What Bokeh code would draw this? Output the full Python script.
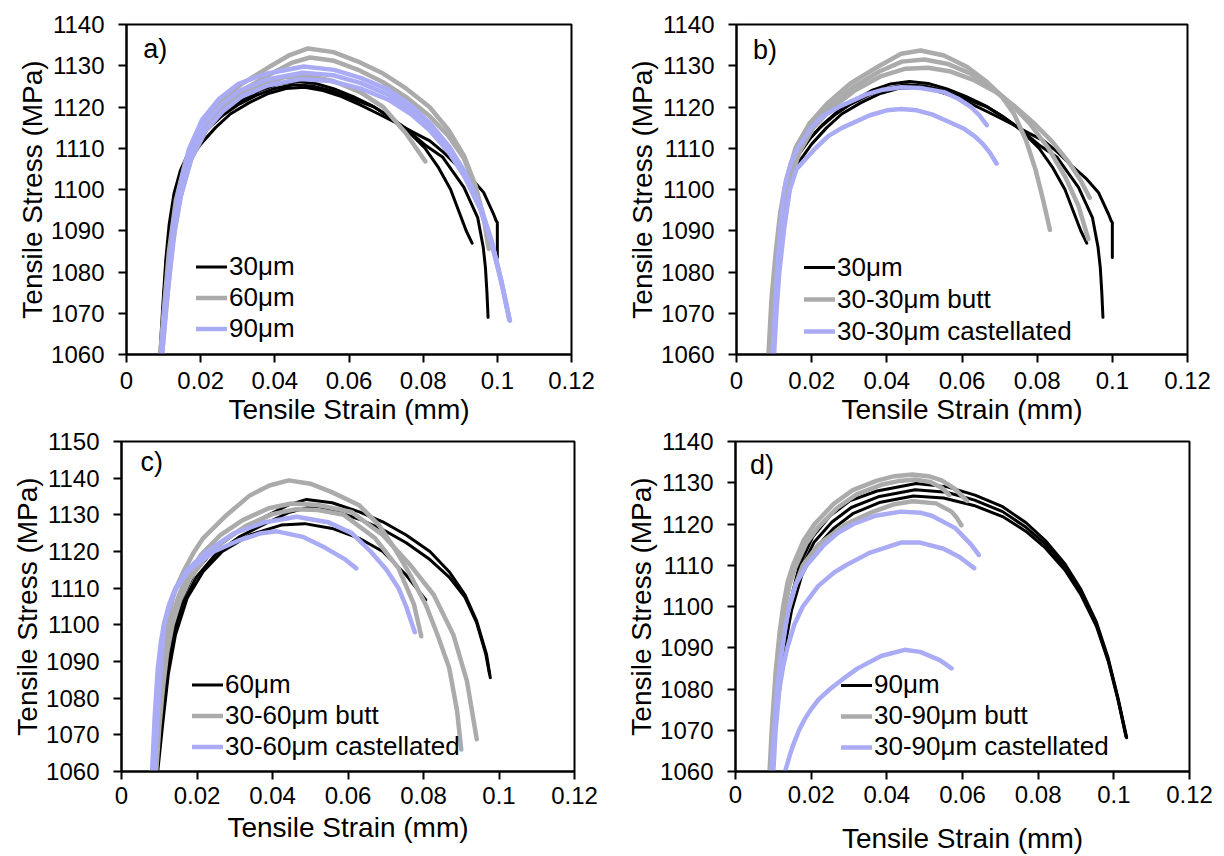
from bokeh.plotting import figure
from bokeh.layouts import column, row
from bokeh.models import Legend, LegendItem, Label, FixedTicker, Range1d
from bokeh.embed import file_html
from bokeh.resources import INLINE

# ---------------- axis ticks ----------------
x_ticks = [0, 0.02, 0.04, 0.06, 0.08, 0.1, 0.12]
x_tick_labels = ["0", "0.02", "0.04", "0.06", "0.08", "0.1", "0.12"]
y_ticks_1140 = [1060, 1070, 1080, 1090, 1100, 1110, 1120, 1130, 1140]
y_ticks_1150 = [1060, 1070, 1080, 1090, 1100, 1110, 1120, 1130, 1140, 1150]

# ---------------- 30 um (three specimens) ----------------
um30_a_strain = [0.0090, 0.0098, 0.0106, 0.0115, 0.0128, 0.0145, 0.0165, 0.0190, 0.0220, 0.0260, 0.0300, 0.0350, 0.0400, 0.0450, 0.0500, 0.0550, 0.0600, 0.0668, 0.0710, 0.0750, 0.0805, 0.0840, 0.0874, 0.0916, 0.0932]
um30_a_stress = [1060, 1072, 1083, 1091.5, 1099, 1104.5, 1108.5, 1111.8, 1114.8, 1118, 1120.5, 1122.8, 1124.5, 1125.4, 1125.1, 1124, 1122.3, 1120, 1117.6, 1115, 1110, 1105.5, 1100, 1090, 1087]
um30_b_strain = [0.0092, 0.0100, 0.0108, 0.0118, 0.0130, 0.0148, 0.0168, 0.0195, 0.0230, 0.0270, 0.0310, 0.0360, 0.0410, 0.0460, 0.0510, 0.0560, 0.0610, 0.0660, 0.0710, 0.0760, 0.0805, 0.0853, 0.0910, 0.0947, 0.0962, 0.0968, 0.0972, 0.0975]
um30_b_stress = [1060, 1073, 1083.5, 1092, 1099, 1104.8, 1108.8, 1112.3, 1115.8, 1119, 1121.5, 1124, 1125.6, 1126.2, 1125.7, 1124.4, 1122.6, 1120.4, 1117.6, 1114.2, 1110.8, 1107.8, 1100.5, 1093.2, 1086, 1081, 1075, 1069]
um30_c_strain = [0.0094, 0.0102, 0.0110, 0.0120, 0.0133, 0.0150, 0.0170, 0.0200, 0.0240, 0.0280, 0.0330, 0.0380, 0.0430, 0.0480, 0.0530, 0.0580, 0.0630, 0.0680, 0.0730, 0.0775, 0.0818, 0.0855, 0.0889, 0.0932, 0.0963, 0.0990, 0.0997, 0.1000, 0.1000]
um30_c_stress = [1060, 1072, 1082, 1090.5, 1097.5, 1103, 1107.2, 1111, 1115, 1118.3, 1121, 1123.2, 1124.5, 1124.8, 1124, 1122.5, 1120.5, 1118.3, 1116, 1113.8, 1111.8, 1109, 1106, 1102.5, 1099.3, 1094, 1092.4, 1092, 1083.5]

# ---------------- 60 um ----------------
um60_a_strain = [0.0091, 0.0102, 0.0114, 0.0133, 0.0159, 0.0195, 0.0247, 0.0309, 0.0381, 0.0440, 0.0490, 0.0558, 0.0630, 0.0692, 0.0754, 0.0817, 0.0868, 0.0910, 0.0941, 0.0967, 0.0977]
um60_a_stress = [1060, 1072, 1084.7, 1097.3, 1106.8, 1114.5, 1120.8, 1125.5, 1129.5, 1132.6, 1134.2, 1133.3, 1130.8, 1128.1, 1124.5, 1120, 1114.5, 1108.2, 1101, 1091.9, 1085.6]
um60_b_strain = [0.0093, 0.0104, 0.0116, 0.0135, 0.0162, 0.0198, 0.0250, 0.0312, 0.0385, 0.0445, 0.0495, 0.0560, 0.0630, 0.0692, 0.0754, 0.0817, 0.0868, 0.0910, 0.0941, 0.0965, 0.0975]
um60_b_stress = [1060, 1071.5, 1084, 1096.5, 1105.8, 1113, 1119.3, 1124, 1127.8, 1130.7, 1132, 1131.2, 1128.8, 1126, 1122.4, 1117.8, 1113, 1107.5, 1100.5, 1092, 1086.5]
um60_c_strain = [0.0096, 0.0110, 0.0124, 0.0143, 0.0174, 0.0216, 0.0267, 0.0340, 0.0423, 0.0485, 0.0558, 0.0630, 0.0692, 0.0754, 0.0806]
um60_c_stress = [1060, 1073.8, 1086.5, 1097.3, 1107.3, 1114.5, 1120, 1124.5, 1127.2, 1127.6, 1126.3, 1123.6, 1120, 1113.6, 1106.8]

# ---------------- 90 um ----------------
um90_a_strain = [0.0093, 0.0103, 0.0114, 0.0126, 0.0142, 0.0168, 0.0204, 0.0250, 0.0302, 0.0374, 0.0478, 0.0560, 0.0633, 0.0706, 0.0768, 0.0819, 0.0871, 0.0912, 0.0954, 0.0985, 0.1011, 0.1034]
um90_a_stress = [1060, 1071.4, 1080.2, 1091.3, 1100.1, 1109.7, 1116.9, 1122, 1125.6, 1128, 1129.8, 1129, 1127, 1124.2, 1120.3, 1116, 1110.3, 1104.3, 1096.2, 1087.5, 1077.8, 1068.2]
um90_b_strain = [0.0096, 0.0106, 0.0117, 0.0130, 0.0148, 0.0175, 0.0210, 0.0260, 0.0310, 0.0380, 0.0470, 0.0550, 0.0630, 0.0706, 0.0768, 0.0819, 0.0871, 0.0912, 0.0954, 0.0985, 0.1011, 0.1032]
um90_b_stress = [1060, 1071, 1080, 1090, 1099, 1107.5, 1114, 1119, 1122.5, 1125.2, 1126.8, 1126.3, 1124.5, 1121.8, 1118.2, 1114.2, 1108.8, 1103, 1095.2, 1086.8, 1077.4, 1068.5]
um90_c_strain = [0.0094, 0.0104, 0.0115, 0.0128, 0.0145, 0.0171, 0.0207, 0.0255, 0.0306, 0.0377, 0.0475, 0.0558, 0.0632, 0.0706, 0.0768, 0.0819, 0.0871, 0.0912, 0.0954, 0.0985, 0.1011, 0.1033]
um90_c_stress = [1060, 1071.2, 1080.1, 1090.6, 1099.6, 1108.6, 1115.5, 1120.5, 1124, 1126.6, 1128.3, 1127.7, 1125.8, 1123, 1119.2, 1115.1, 1109.5, 1103.6, 1095.6, 1087.1, 1077.6, 1068.3]

# ---------------- 30-30 um butt ----------------
butt3030_a_strain = [0.0085, 0.0093, 0.0104, 0.0116, 0.0132, 0.0158, 0.0194, 0.0241, 0.0303, 0.0375, 0.0438, 0.0490, 0.0552, 0.0614, 0.0666, 0.0707, 0.0738, 0.0770, 0.0796, 0.0816, 0.0834]
butt3030_a_stress = [1060, 1073.3, 1084.5, 1094.2, 1102.3, 1110.3, 1116, 1120.8, 1125.7, 1129.7, 1132.9, 1133.7, 1132.5, 1129.7, 1126.1, 1122.4, 1118.4, 1112, 1104.7, 1097.4, 1090.2]
butt3030_b_strain = [0.0088, 0.0097, 0.0108, 0.0120, 0.0137, 0.0163, 0.0200, 0.0250, 0.0310, 0.0380, 0.0440, 0.0500, 0.0560, 0.0620, 0.0680, 0.0730, 0.0780, 0.0830, 0.0875, 0.0910, 0.0936]
butt3030_b_stress = [1060, 1073, 1084, 1093.5, 1101.5, 1109.5, 1115.5, 1120.3, 1124.8, 1128.6, 1131, 1131.5, 1130.5, 1128.2, 1124.8, 1120.8, 1116, 1110, 1103, 1096, 1088]
butt3030_c_strain = [0.0090, 0.0099, 0.0110, 0.0123, 0.0140, 0.0167, 0.0205, 0.0255, 0.0315, 0.0385, 0.0450, 0.0510, 0.0570, 0.0630, 0.0690, 0.0740, 0.0790, 0.0840, 0.0885, 0.0915, 0.0940]
butt3030_c_stress = [1060, 1072.5, 1083.5, 1093, 1101, 1109, 1115, 1119.8, 1124, 1127.5, 1129.3, 1129.5, 1128.6, 1126.6, 1123.6, 1120.2, 1116.2, 1111.6, 1106.5, 1102.3, 1098]

# ---------------- 30-30 um castellated ----------------
cast3030_a_strain = [0.0096, 0.0103, 0.0110, 0.0118, 0.0127, 0.0143, 0.0163, 0.0199, 0.0230, 0.0272, 0.0344, 0.0390, 0.0438, 0.0490, 0.0552, 0.0590, 0.0624, 0.0646, 0.0666]
cast3030_a_stress = [1060, 1072, 1083, 1092, 1100, 1106, 1110, 1115, 1117.8, 1120, 1123, 1124.2, 1124.8, 1124.6, 1123.6, 1122, 1120, 1118, 1115.6]
cast3030_b_strain = [0.0100, 0.0106, 0.0114, 0.0126, 0.0142, 0.0160, 0.0210, 0.0245, 0.0282, 0.0355, 0.0400, 0.0438, 0.0480, 0.0520, 0.0560, 0.0604, 0.0635, 0.0656, 0.0675, 0.0692]
cast3030_b_stress = [1060, 1070, 1080, 1090, 1100, 1105, 1110, 1113, 1115, 1118, 1119.2, 1119.5, 1119.2, 1118.2, 1116.6, 1114.8, 1112.8, 1111, 1108.8, 1106.3]

# ---------------- 30-60 um butt ----------------
butt3060_a_strain = [0.0088, 0.0095, 0.0103, 0.0112, 0.0122, 0.0140, 0.0164, 0.0190, 0.0216, 0.0278, 0.0340, 0.0392, 0.0443, 0.0500, 0.0557, 0.0630, 0.0682, 0.0723, 0.0765, 0.0806, 0.0837, 0.0868, 0.0889, 0.0900]
butt3060_a_stress = [1060, 1072, 1084, 1094, 1101, 1109, 1114.5, 1119.5, 1123.6, 1129.9, 1135.3, 1138, 1139.4, 1138.5, 1136.2, 1132.6, 1127.2, 1120.9, 1113.6, 1105.5, 1097.3, 1088.3, 1076.5, 1066]
butt3060_b_strain = [0.0090, 0.0098, 0.0107, 0.0117, 0.0130, 0.0150, 0.0175, 0.0210, 0.0260, 0.0320, 0.0390, 0.0450, 0.0520, 0.0609, 0.0692, 0.0765, 0.0827, 0.0879, 0.0915, 0.0941]
butt3060_b_stress = [1060, 1072, 1083.5, 1093, 1100.5, 1107.5, 1113.5, 1119, 1124.3, 1128.5, 1131.8, 1133.1, 1132.7, 1130.8, 1124.5, 1116.3, 1108.2, 1097.3, 1084.7, 1068.8]
butt3060_c_strain = [0.0092, 0.0100, 0.0110, 0.0121, 0.0135, 0.0156, 0.0183, 0.0220, 0.0270, 0.0330, 0.0400, 0.0460, 0.0520, 0.0589, 0.0672, 0.0734, 0.0775, 0.0794]
butt3060_c_stress = [1060, 1072, 1083, 1092.5, 1100, 1107, 1112.8, 1118, 1122.8, 1127, 1130.2, 1131.5, 1131.3, 1130, 1123.6, 1115.4, 1105.5, 1096.9]

# ---------------- 30-60 um castellated ----------------
cast3060_a_strain = [0.0081, 0.0088, 0.0096, 0.0104, 0.0112, 0.0126, 0.0143, 0.0174, 0.0226, 0.0298, 0.0380, 0.0464, 0.0547, 0.0610, 0.0660, 0.0702, 0.0734, 0.0754, 0.0777]
cast3060_a_stress = [1060, 1075, 1088, 1095, 1100, 1105.5, 1110, 1115, 1120, 1125, 1128, 1129.5, 1128, 1125, 1120, 1115, 1110, 1105, 1098]
cast3060_b_strain = [0.0088, 0.0095, 0.0103, 0.0113, 0.0128, 0.0146, 0.0180, 0.0245, 0.0310, 0.0370, 0.0412, 0.0480, 0.0540, 0.0590, 0.0622]
cast3060_b_stress = [1060, 1074, 1087, 1100, 1105.5, 1110, 1115, 1120, 1123, 1125, 1125.5, 1124, 1121, 1118, 1115.4]

# ---------------- 30-90 um butt ----------------
butt3090_a_strain = [0.0090, 0.0097, 0.0106, 0.0117, 0.0126, 0.0138, 0.0152, 0.0180, 0.0209, 0.0261, 0.0310, 0.0374, 0.0420, 0.0467, 0.0510, 0.0545, 0.0580, 0.0612]
butt3090_a_stress = [1060, 1072, 1084, 1094, 1100, 1106, 1110, 1116, 1120, 1125, 1128.2, 1130.5, 1131.6, 1132, 1131.6, 1130.6, 1128.5, 1125.6]
butt3090_b_strain = [0.0092, 0.0100, 0.0109, 0.0120, 0.0130, 0.0143, 0.0158, 0.0187, 0.0218, 0.0270, 0.0320, 0.0385, 0.0430, 0.0475, 0.0515, 0.0545, 0.0565]
butt3090_b_stress = [1060, 1072, 1083.5, 1093, 1099.5, 1105.3, 1109.5, 1115.3, 1119.2, 1124, 1127.2, 1129.5, 1130.4, 1130.8, 1130.2, 1128.8, 1127]
butt3090_c_strain = [0.0094, 0.0104, 0.0115, 0.0128, 0.0137, 0.0158, 0.0178, 0.0219, 0.0292, 0.0364, 0.0420, 0.0468, 0.0530, 0.0571, 0.0585, 0.0597]
butt3090_c_stress = [1060, 1074, 1084, 1093, 1098, 1105, 1110, 1115, 1120, 1123, 1124.8, 1125.5, 1125, 1123, 1121.5, 1119.7]

# ---------------- 30-90 um castellated ----------------
cast3090_a_strain = [0.0095, 0.0102, 0.0110, 0.0120, 0.0132, 0.0142, 0.0160, 0.0188, 0.0235, 0.0270, 0.0312, 0.0370, 0.0437, 0.0490, 0.0519, 0.0581, 0.0623, 0.0643]
cast3090_a_stress = [1060, 1070, 1080, 1088, 1095, 1100, 1105.5, 1110, 1115, 1117.8, 1120, 1122, 1123, 1122.7, 1122, 1119, 1115, 1112.5]
cast3090_b_strain = [0.0100, 0.0106, 0.0116, 0.0126, 0.0137, 0.0155, 0.0178, 0.0219, 0.0260, 0.0292, 0.0354, 0.0437, 0.0488, 0.0550, 0.0592, 0.0631]
cast3090_b_stress = [1060, 1070, 1080, 1085.5, 1090, 1095.5, 1100, 1105, 1108.2, 1110, 1113, 1115.5, 1115.5, 1114, 1112, 1109.3]
cast3090_c_strain = [0.0131, 0.0139, 0.0147, 0.0157, 0.0168, 0.0183, 0.0199, 0.0220, 0.0250, 0.0285, 0.0323, 0.0385, 0.0447, 0.0488, 0.0540, 0.0571]
cast3090_c_stress = [1060, 1062.5, 1065, 1067.5, 1070, 1072.7, 1075, 1077.5, 1080, 1082.5, 1085, 1088, 1089.5, 1089, 1087, 1085]

BLACK = "#000000"
GRAY = "#ABABAB"
BLUE = "#A9ABF4"
FONT = "Liberation Sans"

um30 = [(um30_a_strain, um30_a_stress), (um30_b_strain, um30_b_stress), (um30_c_strain, um30_c_stress)]
um60 = [(um60_a_strain, um60_a_stress), (um60_b_strain, um60_b_stress), (um60_c_strain, um60_c_stress)]
um90 = [(um90_a_strain, um90_a_stress), (um90_b_strain, um90_b_stress), (um90_c_strain, um90_c_stress)]
butt3030 = [(butt3030_a_strain, butt3030_a_stress), (butt3030_b_strain, butt3030_b_stress), (butt3030_c_strain, butt3030_c_stress)]
cast3030 = [(cast3030_a_strain, cast3030_a_stress), (cast3030_b_strain, cast3030_b_stress)]
butt3060 = [(butt3060_a_strain, butt3060_a_stress), (butt3060_b_strain, butt3060_b_stress), (butt3060_c_strain, butt3060_c_stress)]
cast3060 = [(cast3060_a_strain, cast3060_a_stress), (cast3060_b_strain, cast3060_b_stress)]
butt3090 = [(butt3090_a_strain, butt3090_a_stress), (butt3090_b_strain, butt3090_b_stress), (butt3090_c_strain, butt3090_c_stress)]
cast3090 = [(cast3090_a_strain, cast3090_a_stress), (cast3090_b_strain, cast3090_b_stress), (cast3090_c_strain, cast3090_c_stress)]


def make_panel(tag, tag_xy, ymax, yticks, groups, legend_xy, row_h, borders,
               xlabel_standoff, xtick_standoff):
    left, right, top, bottom = borders
    p = figure(width=612, height=428, output_backend="svg", toolbar_location=None,
               x_range=Range1d(0, 0.12), y_range=Range1d(1060, ymax),
               min_border_left=left, min_border_right=right,
               min_border_top=top, min_border_bottom=bottom)
    p.xgrid.visible = False
    p.ygrid.visible = False
    p.outline_line_color = "black"
    p.outline_line_width = 2
    p.outline_line_alpha = 1
    p.background_fill_color = "white"
    p.border_fill_color = "white"

    p.xaxis.ticker = FixedTicker(ticks=x_ticks)
    p.xaxis.major_label_overrides = dict(zip(x_ticks, x_tick_labels))
    p.yaxis.ticker = FixedTicker(ticks=yticks)
    p.xaxis.axis_label = "Tensile Strain (mm)"
    p.yaxis.axis_label = "Tensile Stress (MPa)"
    for ax in (p.xaxis[0], p.yaxis[0]):
        ax.axis_line_width = 2
        ax.axis_line_color = "black"
        ax.major_tick_line_width = 2
        ax.major_tick_line_color = "black"
        ax.major_tick_out = 8
        ax.major_tick_in = 0
        ax.minor_tick_out = 0
        ax.minor_tick_in = 0
        ax.major_label_text_font = FONT
        ax.major_label_text_font_size = "24px"
        ax.major_label_text_color = "black"
        ax.axis_label_text_font = FONT
        ax.axis_label_text_font_size = "28px"
        ax.axis_label_text_font_style = "normal"
        ax.axis_label_text_color = "black"
    p.xaxis.major_label_standoff = xtick_standoff
    p.yaxis.major_label_standoff = 14
    p.xaxis.axis_label_standoff = xlabel_standoff
    p.yaxis.axis_label_standoff = 0

    items = []
    for name, color, width, curves in groups:
        rs = []
        for xs, ys in curves:
            r = p.line(xs, ys, line_color=color, line_width=width, line_join="round", line_cap="round")
            rs.append(r)
        items.append(LegendItem(label=name, renderers=[rs[0]]))

    leg = Legend(items=items, location=legend_xy, orientation="vertical",
                 border_line_color=None, background_fill_alpha=0,
                 glyph_width=31, glyph_height=row_h, label_height=row_h,
                 label_standoff=2, spacing=0, padding=0, margin=0,
                 label_text_font=FONT, label_text_font_size="26px",
                 label_text_color="black")
    p.add_layout(leg, "center")

    p.add_layout(Label(x=tag_xy[0], y=tag_xy[1], text=tag, text_font=FONT,
                       text_font_size="27px", text_baseline="middle", text_color="black"))
    return p


pa = make_panel("a)", (0.0045, 1134), 1140, y_ticks_1140,
                [("30μm", BLACK, 3, um30), ("60μm", GRAY, 4.5, um60), ("90μm", BLUE, 4.5, um90)],
                (70, 10), 31, (126, 41, 24, 74), 2, 9)
pb = make_panel("b)", (0.0044, 1133.7), 1140, y_ticks_1140,
                [("30μm", BLACK, 3, um30), ("30-30μm butt", GRAY, 4.5, butt3030),
                 ("30-30μm castellated", BLUE, 4.5, cast3030)],
                (68, 7), 32, (124, 37, 24, 73), 2, 9)
pc = make_panel("c)", (0.005, 1144.4), 1150, y_ticks_1150,
                [("60μm", BLACK, 3, um60), ("30-60μm butt", GRAY, 4.5, butt3060),
                 ("30-60μm castellated", BLUE, 4.5, cast3060)],
                (71, 9), 31, (121, 38, 12, 83), 5, 7)
pd_ = make_panel("d)", (0.0038, 1134.4), 1140, y_ticks_1140,
                 [("90μm", BLACK, 3, um90), ("30-90μm butt", GRAY, 4.5, butt3090),
                  ("30-90μm castellated", BLUE, 4.5, cast3090)],
                 (106, 9), 30, (123, 35, 13, 80), 17, 6)

layout = column(row(pa, pb), row(pc, pd_))
open("out.html", "w").write(file_html(layout, INLINE))
